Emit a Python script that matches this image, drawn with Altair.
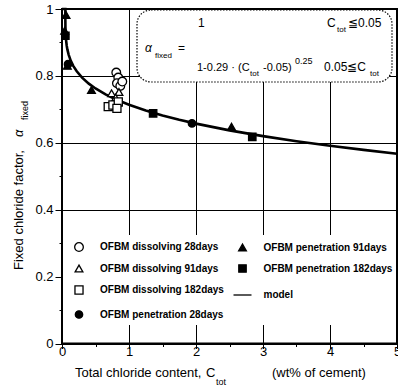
import altair as alt
import pandas as pd

FONT = "Liberation Sans"

# Legend entries (filled column by column, four rows)
SERIES = [
    "OFBM dissolving 28days", "OFBM dissolving 91days",
    "OFBM dissolving 182days", "OFBM penetration 28days",
    "OFBM penetration 91days", "OFBM penetration 182days",
    "model",
]
SHAPES = ["circle", "triangle-up", "square", "circle", "triangle-up", "square", "stroke"]
FILLS = ["white", "white", "white", "black", "black", "black", "black"]
STROKES = ["black"] * 7
SIZES = [75, 60, 65, 55, 60, 55, 324]

# Measured points: total chloride content (wt% of cement) and fixed chloride factor
dis28_c = [0.81, 0.84, 0.82, 0.87, 0.90]
dis28_a = [0.810, 0.795, 0.778, 0.770, 0.783]
dis91_c = [0.74, 0.85, 0.80]
dis91_a = [0.748, 0.752, 0.735]
dis182_c = [0.69, 0.76, 0.84, 0.82]
dis182_a = [0.708, 0.713, 0.722, 0.703]
pen28_c = [0.09, 1.94]
pen28_a = [0.835, 0.658]
pen91_c = [0.06, 0.04, 0.08, 0.44, 2.53]
pen91_a = [0.982, 0.935, 0.830, 0.758, 0.648]
pen182_c = [0.05, 1.36, 2.84]
pen182_a = [0.920, 0.688, 0.618]

# Model: alpha = 1 (C <= 0.05), 1 - 0.29 (C - 0.05)^0.25 (C >= 0.05)
model_c = [0.0, 0.05, 0.0502, 0.051, 0.053, 0.056, 0.06, 0.07, 0.08, 0.1, 0.13,
           0.17, 0.22, 0.3, 0.4, 0.5, 0.65, 0.8, 1.0, 1.25, 1.5, 1.75, 2.0,
           2.5, 3.0, 3.5, 4.0, 4.5, 5.0]
model_a = [1.0 if c <= 0.05 else 1 - 0.29 * (c - 0.05) ** 0.25 for c in model_c]

X_TICKS = [i * 0.5 for i in range(11)]
Y_TICKS = [round(i * 0.1, 1) for i in range(11)]

rows = []
for name, cs, al in [
    ("OFBM dissolving 28days", dis28_c, dis28_a),
    ("OFBM dissolving 91days", dis91_c, dis91_a),
    ("OFBM dissolving 182days", dis182_c, dis182_a),
    ("OFBM penetration 28days", pen28_c, pen28_a),
    ("OFBM penetration 91days", pen91_c, pen91_a),
    ("OFBM penetration 182days", pen182_c, pen182_a),
]:
    for c, a in zip(cs, al):
        rows.append({"c": c, "a": a, "series": name})
points = pd.DataFrame(rows)
model = pd.DataFrame({"c": model_c, "a": model_a})
one = pd.DataFrame({"k": [0]})

x_enc = alt.X(
    "c:Q",
    scale=alt.Scale(domain=[0, 5], nice=False, zero=False),
    axis=alt.Axis(
        values=X_TICKS,
        labelExpr="datum.value % 1 == 0 ? format(datum.value, 'd') : ''",
        tickSize={"condition": {"test": "datum.value % 1 == 0", "value": 5}, "value": 3},
        gridOpacity={"condition": {"test": "datum.value % 1 == 0", "value": 1}, "value": 0},
        labelPadding=-3,
        labelFlush=False,
        title=None,
    ),
)
y_enc = alt.Y(
    "a:Q",
    scale=alt.Scale(domain=[0, 1], nice=False, zero=False),
    axis=alt.Axis(
        values=Y_TICKS,
        labelExpr="round(datum.value * 10) % 2 == 0 ? format(datum.value, '~g') : ''",
        tickSize={"condition": {"test": "round(datum.value * 10) % 2 == 0", "value": 7}, "value": 3},
        gridOpacity={"condition": {"test": "round(datum.value * 10) % 2 == 0", "value": 1}, "value": 0},
        labelPadding=2,
        labelFlush=False,
        title=None,
    ),
)

legend = alt.Legend(
    orient="none", legendX=7, legendY=233, columns=2, columnPadding=6.5,
    rowPadding=7.5, padding=0, title=None, labelFont=FONT, labelFontSize=10,
    labelFontWeight="bold", labelColor="black", labelOffset=11,
    symbolStrokeWidth=1.3, labelLimit=300,
)

# White panel behind the legend
legend_bg = alt.Chart(one).mark_rect(fill="white", stroke=None).encode(
    x=alt.value(1), x2=alt.value(334), y=alt.value(226), y2=alt.value(316)
)

# Dotted box holding the model equation
eq_box = alt.Chart(one).mark_rect(
    fill="white", stroke="black", strokeWidth=1.2, strokeDash=[1.5, 1.5], cornerRadius=14
).encode(x=alt.value(75), x2=alt.value(330), y=alt.value(1), y2=alt.value(73))

line = alt.Chart(model).mark_line(color="black", strokeWidth=2.6).encode(
    x=x_enc, y=y_enc
)

pts = alt.Chart(points).mark_point(
    filled=False, strokeWidth=1.3, opacity=1, fillOpacity=1
).encode(
    x=x_enc,
    y=y_enc,
    shape=alt.Shape("series:N", scale=alt.Scale(domain=SERIES, range=SHAPES), legend=legend),
    fill=alt.Fill("series:N", scale=alt.Scale(domain=SERIES, range=FILLS), legend=legend),
    stroke=alt.Stroke("series:N", scale=alt.Scale(domain=SERIES, range=STROKES), legend=legend),
    size=alt.Size("series:N", scale=alt.Scale(type="ordinal", domain=SERIES, range=SIZES), legend=legend),
)


def label(text, x, y, size=13, angle=0, align="left", baseline="alphabetic", style="normal"):
    return alt.Chart(one).mark_text(
        text=text, font=FONT, fontSize=size, angle=angle, align=align,
        baseline=baseline, fontStyle=style, color="black",
    ).encode(x=alt.value(x), y=alt.value(y))


texts = [
    # y-axis title
    label("Fixed chloride factor,", -43, 261, angle=270, baseline="middle"),
    label("α", -43, 128, angle=270, baseline="middle", style="italic"),
    label("fixed", -37, 111, size=9, angle=270, baseline="middle"),
    # x-axis title
    label("Total chloride content,", 13, 368),
    label("C", 144, 368),
    label("tot", 154, 376, size=9),
    label("(wt% of cement)", 210, 368),
    # equation
    label("α", 83, 43, size=12, style="italic"),
    label("fixed", 93, 49, size=8),
    label("=", 116, 43, size=12),
    label("1", 136, 18, size=12),
    label("C", 265, 18, size=12),
    label("tot", 275, 23, size=8),
    label("≦0.05", 286, 18, size=12),
    label("1-0.29 · (C", 135, 62, size=11),
    label("tot", 188, 67, size=8),
    label("-0.05)", 201, 62, size=11),
    label("0.25", 233, 55, size=9),
    label("0.05≦C", 262, 62, size=12),
    label("tot", 308, 67, size=8),
]

chart = alt.layer(legend_bg, eq_box, line, pts, *texts).properties(
    width=335,
    height=334.5,
    padding={"left": 62, "top": 9, "right": 1, "bottom": 43.5},
    autosize=alt.AutoSizeParams(type="none"),
).configure_view(
    stroke="black", strokeWidth=2
).configure_axis(
    domain=False, gridColor="black", gridWidth=1, tickColor="black", tickWidth=1,
    labelFont=FONT, labelFontSize=13, labelColor="black",
)

chart.save("out.html", embed_options={"renderer": "svg", "actions": False})
